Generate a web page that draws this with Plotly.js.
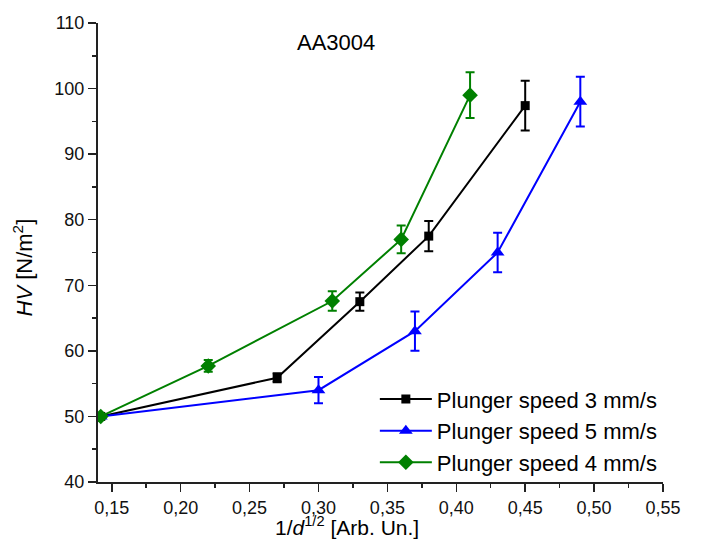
<!DOCTYPE html>
<html>
<head>
<meta charset="utf-8">
<script src="https://cdn.plot.ly/plotly-3.0.1.min.js"></script>
<style>html,body{margin:0;padding:0;background:#fff;}#chart{width:701px;height:543px;}</style>
</head>
<body>
<div id="chart"></div>
<script>
// Data
const names = ['Plunger speed 3 mm/s', 'Plunger speed 5 mm/s', 'Plunger speed 4 mm/s'];
const x3 = [0.142, 0.27, 0.33, 0.38, 0.45];
const y3 = [50, 55.9, 67.5, 77.5, 97.4];
const e3 = [0, 0.7, 1.4, 2.3, 3.8];
const x5 = [0.142, 0.30, 0.37, 0.43, 0.49];
const y5 = [50, 54, 63, 75, 98];
const e5 = [0, 2, 3, 3, 3.8];
const x4 = [0.142, 0.22, 0.31, 0.36, 0.41];
const y4 = [50, 57.7, 67.6, 77, 99];
const e4 = [0, 0.9, 1.5, 2.1, 3.5];
const xTickVals = [0.15, 0.20, 0.25, 0.30, 0.35, 0.40, 0.45, 0.50, 0.55];
const yTickVals = [40, 50, 60, 70, 80, 90, 100, 110];
const label = 'AA3004';
const xTitle = '1/<i>d</i><sup>1/2</sup> [Arb. Un.]';
const yTitle = '<i>HV</i> [N/m<sup>2</sup>]';

const FONT = 'Liberation Sans, Arial, sans-serif';
function tr(x, y, e, name, color, symbol, size) {
  return {
    x: x, y: y, name: name, type: 'scatter', mode: 'lines+markers',
    line: {color: color, width: 2},
    marker: {color: color, symbol: symbol, size: size},
    error_y: {type: 'data', array: e, visible: true, color: color, thickness: 2, width: 4.5}
  };
}
const data = [
  tr(x3, y3, e3, names[0], '#000000', 'square', 9),
  tr(x5, y5, e5, names[1], '#0000ff', 'triangle-up', 12),
  tr(x4, y4, e4, names[2], '#008000', 'diamond', 12)
];
const axisCommon = {
  showline: true, linecolor: '#222', linewidth: 2, mirror: false,
  ticks: 'outside', ticklen: 8, tickwidth: 1.5, tickcolor: '#222',
  showgrid: false, zeroline: false,
  tickfont: {family: FONT, size: 18, color: '#111'}
};
const layout = {
  width: 701, height: 543,
  margin: {l: 98, r: 38, t: 23, b: 61},
  paper_bgcolor: '#fff', plot_bgcolor: '#fff',
  separators: ', ',
  showlegend: true,
  legend: {x: 0.49, y: 0.226, xanchor: 'left', yanchor: 'top', bgcolor: 'rgba(0,0,0,0)',
           font: {family: FONT, size: 22, color: '#000'}, itemwidth: 52, tracegroupgap: 0},
  xaxis: Object.assign({}, axisCommon, {
    range: [0.14, 0.55], tickvals: xTickVals, tickformat: '.2f',
    minor: {dtick: 0.025, tick0: 0.125, ticks: 'outside', ticklen: 4, tickcolor: '#222', tickwidth: 1.5}
  }),
  yaxis: Object.assign({}, axisCommon, {
    range: [40, 110], tickvals: yTickVals,
    minor: {dtick: 5, tick0: 45, ticks: 'outside', ticklen: 4, tickcolor: '#222', tickwidth: 1.5}
  }),
  annotations: [
    {x: 0.3126, y: 107, xref: 'x', yref: 'y', text: label, showarrow: false,
     font: {family: FONT, size: 22, color: '#000'}},
    {x: 0.4407, y: -0.128, xref: 'paper', yref: 'paper', xanchor: 'center', yanchor: 'bottom',
     text: xTitle, showarrow: false, font: {family: FONT, size: 21, color: '#000'}},
    {x: -0.133, y: 0.467, xref: 'paper', yref: 'paper', xanchor: 'center', yanchor: 'middle',
     text: yTitle, textangle: -90, showarrow: false, font: {family: FONT, size: 22, color: '#000'}}
  ]
};
Plotly.newPlot('chart', data, layout, {displayModeBar: false, staticPlot: true});
</script>
</body>
</html>
